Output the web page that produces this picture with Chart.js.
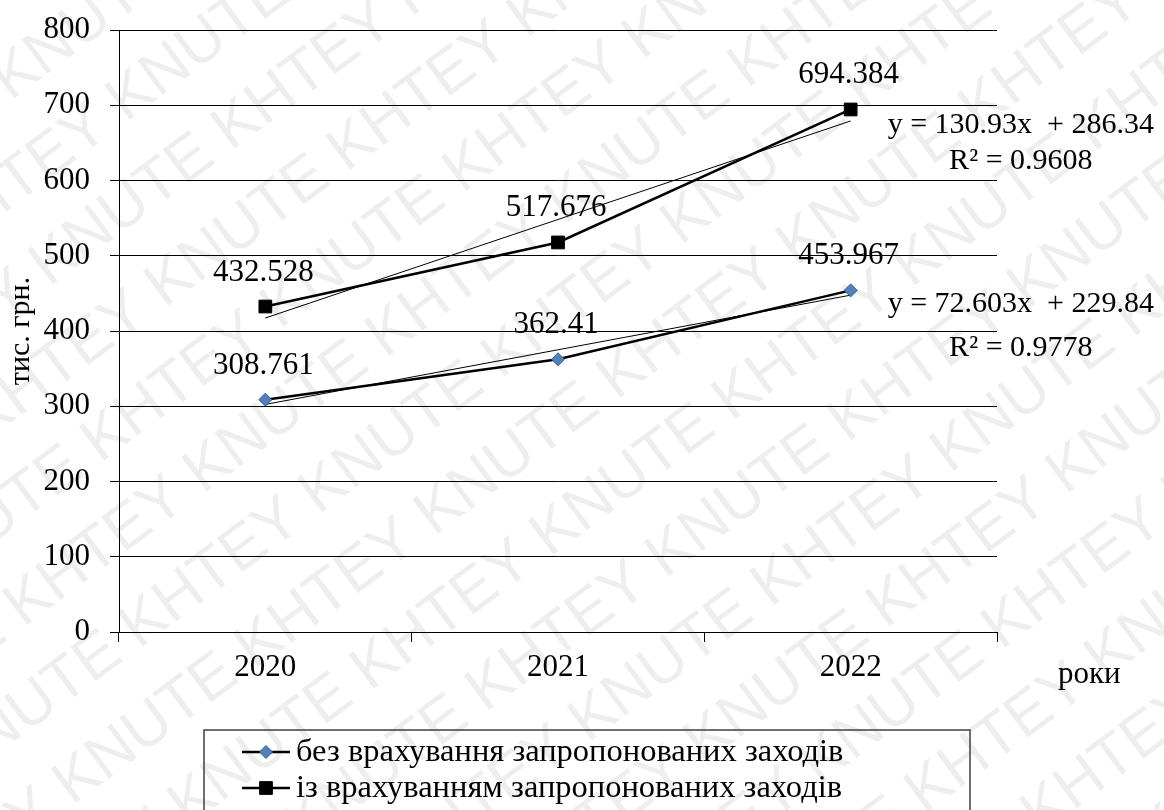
<!DOCTYPE html>
<html>
<head>
<meta charset="utf-8">
<script src="https://cdn.jsdelivr.net/npm/chart.js@4.4.1/dist/chart.umd.min.js"></script>
<style>
  html, body { margin: 0; padding: 0; background: #fff; }
  #chart { display: block; }
</style>
</head>
<body>
<canvas id="chart" width="1164" height="810"></canvas>
<script>
// values
var years = ['2020', '2021', '2022'];
var withoutMeasures = [308.761, 362.41, 453.967];
var withMeasures = [432.528, 517.676, 694.384];
// linear trend values at each year (from the equations shown)
var trendWithout = [302.44, 375.05, 447.65];
var trendWith = [417.27, 548.20, 679.13];
var yMin = 0, yMax = 800, yStep = 100;
var legendLabels = ['без врахування запропонованих заходів', 'із врахуванням запропонованих заходів'];
var eqWith = ['y = 130.93x  + 286.34', 'R² = 0.9608'];
var eqWithout = ['y = 72.603x  + 229.84', 'R² = 0.9778'];
var yTitle = 'тис. грн.';
var xTitle = 'роки';
var watermark = 'KNUTE KHTEY ';

var serif = '"Liberation Serif", "Times New Roman", serif';

var watermarkPlugin = {
    id: 'watermark',
    beforeDraw: function (chart) {
        var ctx = chart.ctx;
        ctx.save();
        ctx.fillStyle = '#fff';
        ctx.fillRect(0, 0, chart.width, chart.height);
        ctx.fillStyle = 'rgba(0,0,0,0.065)';
        ctx.font = '62px "Liberation Sans", sans-serif';
        ctx.textBaseline = 'middle';
        ctx.translate(582, 405);
        ctx.rotate(-0.64);
        var row = watermark.repeat(8);
        for (var r = -9; r <= 9; r++) {
            ctx.fillText(row, -1100 + (r % 3) * 80, r * 86);
        }
        ctx.restore();
    }
};

var labelsPlugin = {
    id: 'extras',
    afterDatasetsDraw: function (chart) {
        var ctx = chart.ctx;
        ctx.save();
        ctx.fillStyle = '#000';
        ctx.font = '31px ' + serif;
        ctx.textAlign = 'center';
        ctx.textBaseline = 'alphabetic';

        // data labels
        [0, 1].forEach(function (i) {
            var ds = chart.data.datasets[i];
            chart.getDatasetMeta(i).data.forEach(function (pt, j) {
                ctx.fillText(String(ds.data[j]), pt.x - 2, pt.y - 26);
            });
        });

        // trend equations
        ctx.font = '30px ' + serif;
        function equation(dsIndex, lines, off1, off2) {
            var pts = chart.getDatasetMeta(dsIndex).data;
            var p = pts[pts.length - 1];
            var left = p.x + 37;
            ctx.textAlign = 'left';
            ctx.fillText(lines[0], left, p.y + off1);
            var w = ctx.measureText(lines[0]).width;
            ctx.textAlign = 'center';
            ctx.fillText(lines[1], left + w / 2, p.y + off2);
        }
        equation(3, eqWith, 12, 48);
        equation(2, eqWithout, 17, 61);

        // x axis title at the right
        ctx.font = '31px ' + serif;
        ctx.textAlign = 'left';
        ctx.fillText(xTitle, chart.chartArea.right + 61, 683);

        // legend box
        var top = 730, left = 204, right = 970;
        ctx.strokeStyle = '#404040';
        ctx.lineWidth = 1.5;
        ctx.strokeRect(left, top, right - left, 120);
        ctx.font = '32.5px ' + serif;
        ctx.textBaseline = 'middle';
        var rows = [752, 788];
        [0, 1].forEach(function (i) {
            var ds = chart.data.datasets[i];
            var y = rows[i];
            ctx.strokeStyle = '#000';
            ctx.lineWidth = 2.5;
            ctx.beginPath();
            ctx.moveTo(242, y);
            ctx.lineTo(290, y);
            ctx.stroke();
            ctx.fillStyle = ds.pointBackgroundColor;
            ctx.strokeStyle = ds.pointBorderColor;
            ctx.lineWidth = ds.pointBorderWidth;
            Chart.helpers.drawPoint(ctx, {
                pointStyle: ds.pointStyle,
                radius: ds.pointRadius,
                rotation: 0,
                borderWidth: ds.pointBorderWidth
            }, 266, y);
            ctx.fillStyle = '#000';
            ctx.textAlign = 'left';
            ctx.fillText(legendLabels[i], 296, y);
        });
        ctx.restore();
    }
};

var ctx = document.getElementById('chart').getContext('2d');
new Chart(ctx, {
    type: 'line',
    data: {
        labels: years,
        datasets: [{
            label: legendLabels[0],
            data: withoutMeasures,
            borderColor: '#000',
            borderWidth: 2.5,
            pointStyle: 'rectRot',
            pointRadius: 6.5,
            pointBackgroundColor: '#4f81bd',
            pointBorderColor: '#385d8a',
            pointBorderWidth: 1,
            tension: 0
        }, {
            label: legendLabels[1],
            data: withMeasures,
            borderColor: '#000',
            borderWidth: 2.5,
            pointStyle: 'rect',
            pointRadius: 9,
            pointBackgroundColor: '#000',
            pointBorderColor: '#000',
            pointBorderWidth: 1,
            tension: 0
        }, {
            label: 'trend1',
            data: trendWithout,
            borderColor: '#000',
            borderWidth: 1,
            pointRadius: 0,
            tension: 0
        }, {
            label: 'trend2',
            data: trendWith,
            borderColor: '#000',
            borderWidth: 1,
            pointRadius: 0,
            tension: 0
        }]
    },
    options: {
        responsive: false,
        animation: false,
        layout: { autoPadding: false, padding: { left: 0, right: 167, top: 30, bottom: 0 } },
        plugins: {
            legend: { display: false },
            tooltip: { enabled: false }
        },
        scales: {
            x: {
                type: 'category',
                offset: true,
                grid: {
                    offset: true,
                    drawOnChartArea: false,
                    drawTicks: true,
                    tickLength: 10,
                    color: '#000'
                },
                border: { display: true, color: '#000', width: 1 },
                ticks: {
                    color: '#000',
                    font: { family: serif, size: 31 },
                    padding: 7,
                    maxRotation: 0
                },
                afterFit: function (scale) { scale.height = 178; }
            },
            y: {
                min: yMin,
                max: yMax,
                ticks: {
                    stepSize: yStep,
                    color: '#000',
                    font: { family: serif, size: 31 },
                    padding: 20
                },
                grid: {
                    color: '#000',
                    lineWidth: 1,
                    tickLength: 9
                },
                border: { display: true, color: '#000', width: 1 },
                title: {
                    display: true,
                    text: yTitle,
                    color: '#000',
                    font: { family: serif, size: 30 },
                    padding: { top: 3, bottom: 0 }
                },
                afterFit: function (scale) {
                    scale.width = 119;
                    scale.paddingTop = 0;
                    scale.paddingBottom = 0;
                }
            }
        }
    },
    plugins: [watermarkPlugin, labelsPlugin]
});
</script>
</body>
</html>
